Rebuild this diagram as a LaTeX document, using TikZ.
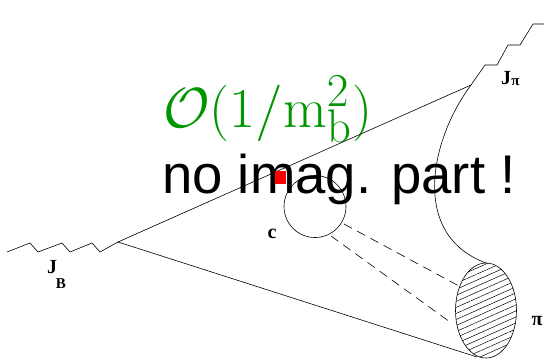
\documentclass[tikz,border=0pt]{standalone}
\usepackage[no-math]{fontspec}
\setmainfont{Liberation Serif}
\newfontfamily\sansfont{Liberation Sans}
\usepackage{tikz}
\usetikzlibrary{positioning, patterns.meta}
\definecolor{ordergreen}{RGB}{0,150,0}

\begin{document}
\begin{tikzpicture}[
    x=1pt, y=-1pt,
    line/.style={draw, line width=0.6pt},
    quark/.style={draw, line width=0.6pt, dash pattern=on 9pt off 6pt},
    lbl/.style={inner sep=0pt, font=\fontsize{20}{20}\selectfont\bfseries},
    sublbl/.style={inner sep=0pt, font=\fontsize{15}{15}\selectfont\bfseries}
]
\useasboundingbox (0,0) rectangle (544,360);

% big texts
\node[anchor=base west, inner sep=0pt, text=ordergreen, font=\Huge] (order) at (163,127) {\resizebox{209pt}{!}{$\mathcal{O}(1/\mathrm{m}_{\mathrm{b}}^2)$}};
\node[anchor=base west, inner sep=0pt, font=\fontsize{54.5}{54.5}\selectfont\sansfont] (noimag) at (162,193) {no imag. part !};

% vertices
\coordinate (vB) at (118,242);
\coordinate (vtop) at (471,85);
\coordinate (vbot) at (477,357);
\coordinate (pitop) at (486,263);
\coordinate (c1) at (344,224);
\coordinate (c2) at (331,236);
\coordinate (p1) at (459,286);
\coordinate (p2) at (450,322);

% currents
\draw[line] (7,252) -- (30,243) -- (38,252) -- (62,243) -- (70,252) -- (92,243) -- (100,252) -- (vB);
\draw[line] (vtop) -- (485,65) -- (497,65) -- (508,45) -- (520,45) -- (533,24) -- (544,24);

% quark lines
\draw[line] (vB) -- (vtop);
\draw[line] (vB) -- (vbot);
\draw[line] (vtop) .. controls (430,140) and (410,235) .. (pitop);
\node[line, circle, minimum size=62pt, inner sep=0pt] (loop) at (315,206.5) {};
\draw[quark] (c1) -- (p1);
\draw[quark] (c2) -- (p2);

% pion
\draw[line, pattern={Lines[angle=24, distance=5.5pt, line width=0.5pt]}] (486,310.5) ellipse [x radius=30.5, y radius=47.5];

% vertex mark
\fill[red] (275,171) rectangle (286,184);

% labels
\node[lbl] (jB) at (52,267) {J};
\node[sublbl] (jBsub) at (61,284) {B};
\node[lbl] (jpi) at (506,78) {J};
\node[sublbl, right=0pt of jpi, yshift=-4pt] (jpisub) {π};
\node[lbl] (cq) at (272,234) {c};
\node[lbl] (pi) at (537,321) {π};
\end{tikzpicture}
\end{document}
